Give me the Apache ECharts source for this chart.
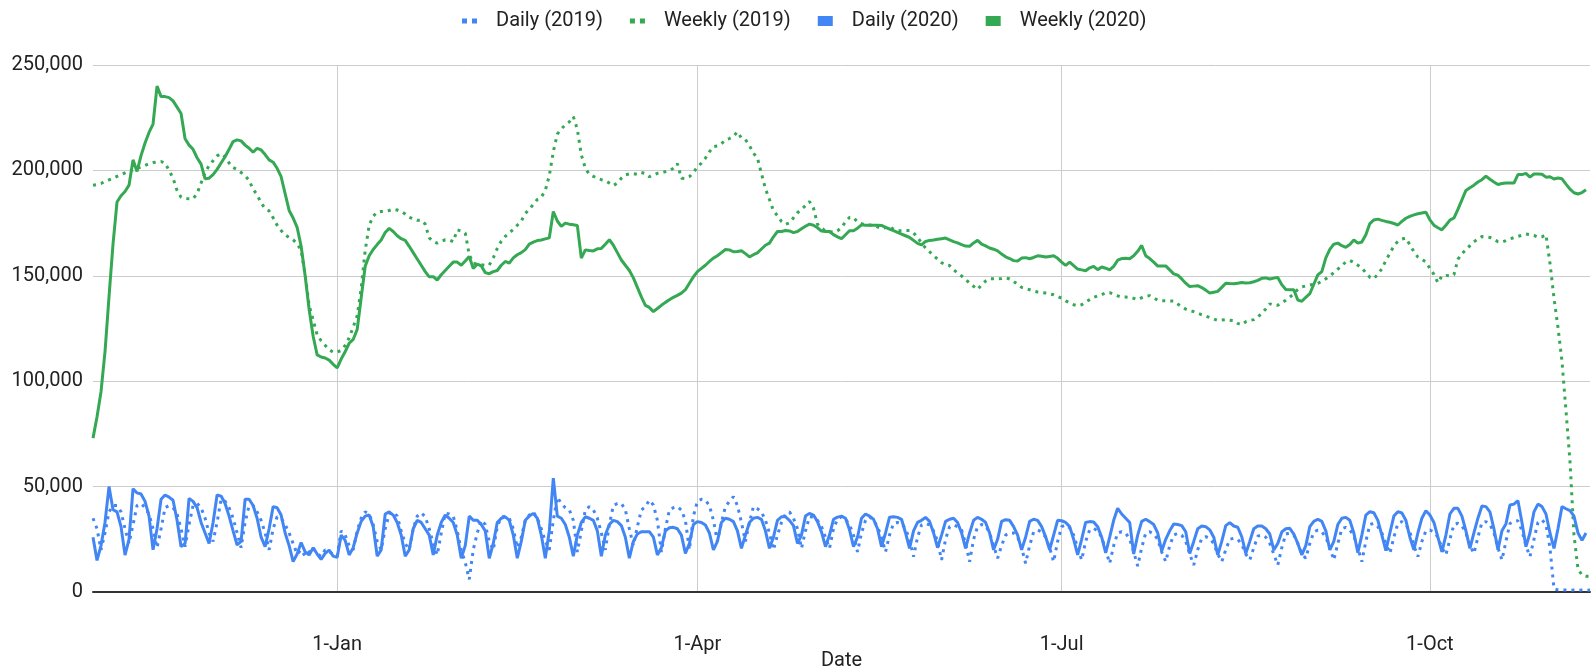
<!DOCTYPE html>
<html>
<head>
<meta charset="utf-8">
<title>Daily and weekly 2019 vs 2020</title>
<script src="https://cdn.jsdelivr.net/npm/echarts@6/dist/echarts.min.js"></script>
<style>
  html, body { margin: 0; padding: 0; background: #fff; }
  #chart { width: 1591px; height: 671px; }
</style>
</head>
<body>
<div id="chart"></div>
<script>
// one value per day, starting 1-Nov
var daily2019 = [
    35000, 30000, 20000, 28000, 38000, 41000, 41000, 38000, 30000, 23000,
    32000, 41000, 42000, 40000, 37000, 30000, 21000, 30000, 40000, 41000,
    40000, 37000, 30000, 21500, 32000, 41000, 42000, 40000, 35000, 28000,
    24000, 33000, 44000, 43000, 40000, 35000, 28000, 21000, 33000, 41000,
    41000, 38000, 34000, 28000, 20000, 30000, 35700, 35000, 32000, 28000,
    23000, 18000, 20000, 17000, 19000, 21000, 18000, 17000, 20000, 19000,
    18000, 17000, 29000, 27000, 22000, 20000, 29000, 35000, 38000, 37000,
    32000, 24000, 20000, 30000, 37000, 38000, 36000, 29000, 23000, 20000,
    30000, 36000, 37600, 35700, 30000, 23000, 17600, 28000, 37300, 37000,
    36000, 29000, 20000, 14000, 6000, 20000, 28000, 34000, 32000, 24000,
    20000, 31000, 35500, 36000, 35000, 30000, 21000, 26000, 34000, 36500,
    38000, 35000, 30000, 24000, 20000, 34000, 45000, 42000, 40000, 39000,
    34000, 19000, 29000, 38900, 40500, 39000, 35000, 28000, 20000, 32000,
    41000, 42000, 42000, 39000, 30000, 22000, 31000, 38900, 40500, 43600,
    41300, 34000, 19000, 30000, 38900, 40000, 40500, 38900, 34000, 20000,
    36000, 43000, 44000, 43600, 41000, 34000, 24000, 33000, 40500, 43000,
    45200, 41000, 33000, 24000, 33000, 40500, 39500, 38000, 34000, 28000,
    20000, 27000, 33000, 37000, 38000, 35000, 30000, 20700, 29000, 35700,
    35500, 34000, 31000, 26000, 20700, 30000, 34500, 35700, 34500, 32000,
    27000, 19000, 28000, 34000, 35700, 34000, 31000, 26000, 19000, 27000,
    32600, 33000, 32600, 30000, 25000, 16800, 26000, 31800, 32500, 31800,
    29000, 24000, 15200, 25000, 31000, 31800, 31000, 29400, 23000, 14400,
    25000, 31000, 32000, 31500, 28000, 22000, 16000, 22000, 27000, 28000,
    28000, 26000, 21000, 13600, 22000, 28500, 29400, 28500, 26000, 21000,
    14400, 24000, 31000, 31800, 30500, 27000, 21000, 15200, 24000, 29500,
    30200, 29000, 26000, 20000, 13600, 22000, 28000, 28600, 28000, 25000,
    19000, 12300, 21000, 28000, 28600, 27500, 25000, 19000, 14400, 22000,
    27000, 27800, 27000, 24000, 18000, 12800, 20000, 25500, 26200, 25500,
    23000, 18000, 14400, 20000, 25000, 25500, 25000, 22500, 18000, 15200,
    21000, 26500, 27000, 26000, 23000, 18000, 12800, 21000, 27500, 28000,
    27000, 23000, 18000, 16000, 23000, 28500, 29400, 28500, 26000, 21000,
    15200, 23000, 30000, 30700, 29500, 26500, 21000, 14400, 24000, 32000,
    32600, 31000, 28000, 23000, 18300, 26000, 32500, 33400, 32000, 28500,
    22000, 16800, 24000, 29000, 29400, 28500, 26000, 21000, 17600, 25000,
    32000, 32600, 31500, 28000, 22000, 18300, 26000, 33000, 33400, 32000,
    28000, 21000, 15200, 24000, 32500, 33500, 33800, 29000, 22000, 16800,
    25000, 33000, 34200, 32000, 21000, 1500, 1000, 900, 900, 800,
    900, 800, 900, 800, 900
];

var weekly2019 = [
    193000, 193300, 193800, 194700, 195500, 196300, 197200, 198000, 198800, 199600,
    200300, 200900, 201700, 202400, 203200, 203700, 204000, 204200, 203500, 200000,
    196300, 190500, 187300, 186800, 186500, 186500, 189000, 194000, 199000, 202300,
    204600, 206900, 208000, 206500, 203500, 201300, 200500, 199000, 197500, 195300,
    191000, 188500, 184500, 182000, 180800, 177500, 174000, 171500, 169400, 168200,
    167100, 165200, 162000, 150500, 136000, 129000, 122000, 119200, 117000, 115000,
    113700, 113800, 114600, 117000, 120600, 125700, 131000, 144000, 162000, 174000,
    178300, 180200, 180500, 180500, 181000, 181600, 181200, 180500, 179300, 177800,
    177000, 176300, 176400, 174500, 168000, 166300, 165500, 166300, 167100, 167100,
    166200, 171800, 171200, 170300, 160000, 156000, 155500, 155200, 154900, 155100,
    158500, 163000, 166400, 168700, 170400, 172000, 174000, 176000, 179500, 181600,
    183800, 186200, 187300, 190500, 197500, 208900, 217200, 219700, 221600, 223000,
    225500, 219500, 207400, 201000, 198200, 197200, 196200, 195600, 195100, 194000,
    192800, 194000, 196300, 197900, 198300, 198400, 198100, 199000, 198500, 197000,
    197800, 198600, 198900, 199400, 199900, 201000, 203200, 196300, 196100, 197000,
    199000, 201600, 203500, 205800, 208800, 211300, 211600, 212600, 214500, 215100,
    216200, 218300, 215300, 214600, 211800, 208200, 205800, 198500, 191300, 186200,
    180900, 178500, 175800, 174400, 175100, 177500, 179900, 181500, 183300, 185200,
    182100, 174500, 172700, 171200, 170900, 170700, 171300, 172900, 175600, 177700,
    177700, 175400, 174700, 174300, 174100, 173900, 173200, 172300, 172900, 173400,
    172100, 171400, 171400, 171500, 171500, 170300, 168200, 165500, 163200, 161400,
    159600, 157900, 156200, 155200, 154900, 152900, 151300, 149900, 148400, 146500,
    145000, 143500, 145800, 147500, 148600, 148600, 148600, 148700, 149100, 148500,
    147300, 146000, 144500, 144000, 143400, 142800, 142300, 142000, 141800, 141400,
    141000, 140200, 139300, 138100, 137200, 136300, 135800, 136300, 137600, 138700,
    139800, 140500, 141000, 142000, 142000, 141200, 140500, 139900, 139900, 139800,
    139300, 138700, 139600, 140300, 140600, 139600, 138400, 138200, 138200, 138100,
    138000, 136600, 135300, 134200, 133500, 133000, 132300, 131500, 130900, 130200,
    129500, 128800, 129000, 129200, 128900, 128700, 127400, 126800, 128200, 128800,
    129200, 130400, 132200, 134300, 136700, 136100, 136000, 137300, 138400, 139900,
    141500, 143500, 144700, 145200, 145600, 146000, 146400, 147400, 148600, 150000,
    151500, 153200, 154800, 156600, 157300, 156400, 155000, 153700, 151400, 149300,
    148600, 150800, 153300, 157300, 160600, 164200, 166300, 167400, 167900, 164700,
    161500, 158900, 157700, 156700, 153500, 150700, 146700, 150000, 150200, 150000,
    150500, 157800, 160500, 162300, 164300, 166100, 167400, 168600, 168500, 168200,
    167200, 166200, 166000, 166700, 167500, 168100, 168700, 169200, 169800, 169500,
    169200, 168300, 168500, 169500, 156000, 139500, 125500, 109500, 86000, 62000,
    27000, 11000, 8000, 7500, 7500
];

var daily2020 = [
    26000, 15000, 22000, 33000, 50000, 39000, 38000, 31000, 17500, 25000,
    49000, 47000, 46500, 43000, 36000, 20000, 30000, 44000, 46000, 45000,
    43500, 34000, 21500, 23000, 44400, 43000, 40000, 33000, 28000, 23000,
    33000, 46000, 45500, 42000, 36000, 29000, 22300, 24000, 44000, 44000,
    41000, 35000, 26000, 21500, 30000, 40500, 40000, 36500, 28000, 22000,
    14400, 18000, 23500, 19000, 17600, 21000, 18000, 15500, 18300, 19900,
    17000, 16400, 27000, 24500, 17600, 21000, 28000, 33500, 36000, 36500,
    31000, 17000, 20000, 37000, 38000, 36500, 33000, 27000, 17000, 20000,
    30000, 34000, 33000, 30000, 27000, 17600, 27000, 33000, 36500, 35000,
    33000, 27000, 16000, 22000, 36000, 34000, 34000, 32000, 29000, 16000,
    23000, 33000, 35000, 35700, 34000, 27000, 16000, 24000, 34000, 36000,
    37300, 35000, 27000, 16000, 29000, 54000, 36000, 35000, 32000, 26000,
    17000, 27000, 33000, 35700, 35000, 34000, 29000, 17000, 27000, 32000,
    34000, 33400, 31500, 26000, 16000, 24000, 27500, 28600, 28600, 28600,
    26000, 17600, 21000, 29000, 30500, 30700, 30000, 27000, 18300, 23000,
    32000, 33400, 33000, 31800, 28000, 20000, 24000, 33000, 35000, 34500,
    33400, 29000, 20700, 27000, 33000, 35000, 35400, 34500, 29000, 20700,
    26000, 34000, 35700, 35700, 34000, 31500, 23000, 27000, 36000, 37300,
    36500, 33400, 28500, 21500, 27000, 34500, 35500, 36000, 35000, 29500,
    21500, 26000, 35000, 37000, 36000, 34500, 30000, 21500, 28000, 35500,
    35700, 35400, 34500, 28000, 20700, 29000, 33000, 34000, 35400, 33500,
    28000, 21000, 27000, 33500, 34500, 35000, 33000, 28000, 20700, 28000,
    34000, 35400, 34500, 33000, 28000, 20000, 25000, 33500, 34300, 34000,
    31000, 27000, 20000, 26000, 33500, 34500, 34000, 31000, 26200, 20000,
    27000, 34000, 33800, 33000, 31000, 25000, 17600, 25000, 33000, 33400,
    33200, 31000, 26000, 18500, 26000, 34000, 39700, 37000, 35000, 33000,
    18000, 27000, 33500, 34500, 33400, 32000, 28000, 19500, 25000, 29000,
    32300, 32000, 31500, 28600, 18300, 24000, 30000, 31300, 31000, 29500,
    26000, 17600, 24000, 31500, 32900, 31300, 30700, 26200, 18300, 24000,
    30000, 31300, 31300, 30000, 27500, 20000, 23000, 28500, 30000, 30200,
    27500, 23000, 17600, 22000, 31000, 33500, 34500, 33500, 29000, 20000,
    24000, 32000, 35000, 35400, 34000, 28000, 18700, 27000, 36500, 38100,
    37600, 34000, 27000, 19600, 28000, 36000, 38100, 37500, 34000, 26000,
    20000, 28000, 35000, 38600, 36500, 33000, 26000, 19000, 27000, 37000,
    39700, 39700, 36000, 29000, 20700, 28000, 35000, 40800, 40500, 38000,
    30000, 20000, 29000, 32300, 41300, 41700, 43300, 33000, 21500, 28000,
    38000, 41700, 40500, 37000, 28000, 20700, 30000, 40500, 39500, 38600,
    36000, 28000, 24500, 28000
];

var weekly2020 = [
    73000, 83000, 95000, 114000, 140000, 165000, 185000, 188000, 190000, 193000,
    205000, 199500, 207000, 213000, 218000, 222000, 240000, 235000, 235000, 234500,
    233000, 230000, 227000, 215000, 212000, 210000, 206000, 203000, 196000, 196300,
    198000, 200500, 203500, 206500, 210000, 213700, 214500, 214000, 212000, 210500,
    208600, 210500, 209700, 207500, 205000, 203900, 201000, 197000, 189000, 181000,
    177400, 173000, 164000, 150000, 134000, 121300, 112500, 111500, 111000, 110000,
    108000, 106300, 110500, 114000, 118000, 119800, 124500, 139500, 154500, 159500,
    162500, 164800, 167000, 170500, 172500, 171000, 169000, 167600, 166800, 164000,
    161000, 158000, 155000, 152000, 149500, 149600, 148000, 150500, 152500, 154500,
    156500, 156500, 155000, 157000, 159200, 153500, 155500, 154700, 151500, 151000,
    152000, 152500, 155000, 156800, 156000, 158500, 160000, 161000, 162400, 165000,
    166000, 166700, 167000, 167500, 168000, 180500, 176000, 173400, 175000, 174500,
    174200, 173900, 158400, 162300, 162000, 161800, 162800, 163000, 165000, 167100,
    164500, 161000, 157500, 155000, 152500, 149000, 144500, 140000, 136000, 135000,
    133000, 134500, 136000, 137400, 138600, 139800, 140700, 141800, 143400, 146500,
    149500, 152000, 153500, 155000, 156800, 158400, 159500, 161000, 162500, 162300,
    161400, 161500, 161900, 160500, 159000, 160000, 160900, 162700, 164500, 165500,
    168500, 171000, 171000, 171500, 171300, 170500, 171000, 172300, 173500, 174500,
    174000, 172800, 171200, 171000, 171000, 169500, 168500, 167600, 169500, 171400,
    171400, 172600, 174200, 174000, 174000, 174000, 174000, 173900, 173000, 172200,
    171400, 170600, 169800, 169000, 168200, 166800, 165400, 164700, 166300, 166800,
    167000, 167300, 167600, 167900, 167000, 166200, 165600, 164800, 164100, 164000,
    165600, 166800, 165000, 164200, 163200, 162600, 161800, 160300, 159000, 158200,
    157200, 157000, 158400, 158600, 158100, 158700, 159500, 159300, 158900, 159200,
    159500, 158300, 156500, 154900, 156500, 154800, 153200, 152800, 152400, 153800,
    154500, 152900, 154200, 153600, 152800, 154500, 157400, 158200, 158300, 158100,
    159500, 161600, 164400, 159500, 158200, 156500, 154600, 154600, 154700, 152800,
    150900, 150300, 148500, 146500, 144900, 145100, 145300, 144400, 143200, 141800,
    142200, 142600, 144500, 146500, 146300, 146200, 146500, 146800, 146600, 146700,
    147200, 147800, 148800, 149000, 148500, 148900, 149200, 145800, 143500, 143400,
    143400, 138500, 137900, 139800, 141500, 146000, 150400, 152000, 158500, 162500,
    165000, 165500, 164300, 163500, 164800, 167000, 165500, 166000, 169500, 174800,
    176500, 176900, 176300, 175800, 175400, 174800, 174100, 175800, 177300, 178200,
    178900, 179400, 179800, 180200, 176500, 174000, 172800, 171800, 174000, 176400,
    177400, 181500, 186000, 190500, 191800, 193000, 194500, 195600, 197300, 195800,
    194500, 193300, 193800, 194000, 194000, 194000, 198000, 198000, 198600, 196800,
    198300, 198300, 198200, 196800, 197000, 195900, 196400, 196000, 193500, 191100,
    189400, 188800, 189500, 190800
];

var tickLabels = ['1-Jan', '1-Apr', '1-Jul', '1-Oct'];
var seriesNames = ['Daily (2019)', 'Weekly (2019)', 'Daily (2020)', 'Weekly (2020)'];

var blue = '#4285f4';
var green = '#34a853';
var dotIcon = 'path://M0,0h5v5h-5zM10,0h5v5h-5z';
var barIcon = 'path://M0,0h15v10h-15z';

// category per day, 1-Nov .. 10-Nov of the following year
var monthNames = ['Jan', 'Feb', 'Mar', 'Apr', 'May', 'Jun', 'Jul', 'Aug', 'Sep', 'Oct', 'Nov', 'Dec'];
var dates = [];
var day = new Date(2018, 10, 1);
for (var i = 0; i < daily2019.length; i++) {
    dates.push(day.getDate() + '-' + monthNames[day.getMonth()]);
    day.setDate(day.getDate() + 1);
}

function isTick(index, value) {
    return tickLabels.indexOf(value) >= 0;
}

var chartPage = {
    myChart: echarts.init(document.getElementById('chart'))
};

function lineSeries(name, data, color, dotted) {
    return {
        name: name,
        type: 'line',
        data: data,
        showSymbol: false,
        symbol: 'none',
        lineStyle: {
            color: color,
            width: 3,
            type: dotted ? [3, 5] : 'solid'
        },
        itemStyle: { color: color }
    };
}

chartPage.option = {
    animation: false,
    textStyle: { fontFamily: 'Roboto' },
    legend: {
        top: 6,
        left: 457,
        itemWidth: 15,
        itemHeight: 10,
        itemGap: 27,
        textStyle: {
            fontSize: 20,
            color: '#222',
            padding: [0, 0, 0, 14]
        },
        data: [
            { name: seriesNames[0], icon: dotIcon, itemStyle: { color: blue, borderWidth: 0 } },
            { name: seriesNames[1], icon: dotIcon, itemStyle: { color: green, borderWidth: 0 } },
            { name: seriesNames[2], icon: barIcon, itemStyle: { color: blue, borderWidth: 0 } },
            { name: seriesNames[3], icon: barIcon, itemStyle: { color: green, borderWidth: 0 } }
        ]
    },
    grid: {
        left: 93,
        right: 1,
        top: 65,
        bottom: 79,
        outerBoundsMode: 'none'
    },
    xAxis: {
        type: 'category',
        data: dates,
        boundaryGap: false,
        name: 'Date',
        nameLocation: 'middle',
        nameGap: 59,
        nameMoveOverlap: false,
        nameTextStyle: { fontSize: 20, color: '#222' },
        axisTick: { show: false },
        axisLine: { lineStyle: { color: '#333', width: 2 } },
        axisLabel: {
            interval: isTick,
            fontSize: 20,
            color: '#222',
            margin: 43
        },
        splitLine: {
            show: true,
            interval: isTick,
            lineStyle: { color: '#ccc', width: 1 }
        }
    },
    yAxis: {
        type: 'value',
        min: 0,
        max: 250000,
        interval: 50000,
        axisLine: { show: false },
        axisTick: { show: false },
        axisLabel: {
            fontSize: 20,
            color: '#222',
            margin: 10,
            formatter: function (v) { return v.toLocaleString('en-US'); }
        },
        splitLine: { lineStyle: { color: '#ccc', width: 1 } }
    },
    series: [
        lineSeries(seriesNames[0], daily2019, blue, true),
        lineSeries(seriesNames[1], weekly2019, green, true),
        lineSeries(seriesNames[2], daily2020, blue, false),
        lineSeries(seriesNames[3], weekly2020, green, false)
    ]
};

chartPage.myChart.setOption(chartPage.option);
</script>
</body>
</html>
